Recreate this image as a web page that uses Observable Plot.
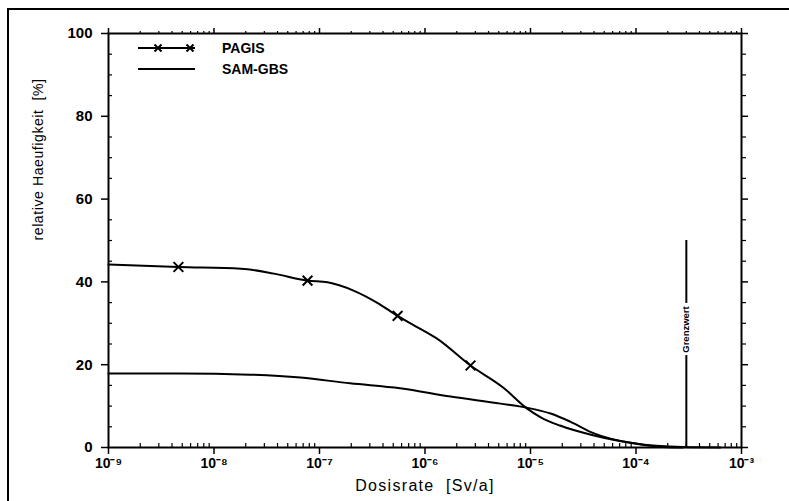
<!DOCTYPE html>
<html>
<head>
<meta charset="utf-8">
<script src="https://cdn.jsdelivr.net/npm/d3@7"></script>
<script src="https://cdn.jsdelivr.net/npm/@observablehq/plot@0.6"></script>
<style>
  html, body { margin: 0; padding: 0; background: #fff; }
  #wrap { position: relative; width: 789px; height: 501px; overflow: hidden; font-family: "Liberation Sans", Arial, sans-serif; }
  #outer { position: absolute; left: 7px; top: 8px; width: 900px; height: 600px; border-left: 2px solid #000; border-top: 2px solid #000; }
  #legend { position: absolute; left: 138px; top: 37px; font-weight: bold; font-size: 14px; }
  .row { display: flex; align-items: center; height: 21px; }
  .row svg { margin-right: 27px; }
</style>
</head>
<body>
<div id="wrap">
  <div id="outer"></div>
  <div id="chart"></div>
  <div id="legend"></div>
</div>
<script>
// ---- data ----
const seriesNames = ["PAGIS", "SAM-GBS"];
const pagisX = [1e-9, 4.6e-9, 1.8e-8, 3.7e-8, 7.7e-8, 1.19e-7, 2.1e-7, 3.5e-7, 5.5e-7, 8.5e-7, 1.3e-6, 2.7e-6, 5.5e-6, 9.3e-6, 1.25e-5, 1.9e-5, 4.0e-5, 9.5e-5, 1.6e-4, 2.8e-4];
const pagisY = [44.2, 43.6, 43.2, 42.0, 40.3, 39.9, 37.9, 35.0, 31.8, 29.0, 26.3, 19.8, 14.5, 9.4, 7.3, 5.3, 2.9, 1.0, 0.2, 0];
const pagisMarkX = [4.6e-9, 7.7e-8, 5.5e-7, 2.7e-6];
const pagisMarkY = [43.6, 40.3, 31.8, 19.8];
const samX = [1e-9, 4.8e-9, 2.2e-8, 6.6e-8, 1.95e-7, 5.8e-7, 1.75e-6, 5.2e-6, 9.3e-6, 1.55e-5, 2.4e-5, 4.0e-5, 9.5e-5, 2.8e-4, 6.3e-4];
const samY = [17.9, 17.9, 17.6, 16.9, 15.5, 14.3, 12.3, 10.6, 9.6, 8.2, 6.2, 3.4, 1.0, 0.1, 0];
const limitX = 3e-4;            // Grenzwert
const limitLabel = "Grenzwert";
const limitSegments = [[0, 22.2], [34.8, 50]];
const limitLabelY = 28.5;
const xMajorTicks = [1e-9, 1e-8, 1e-7, 1e-6, 1e-5, 1e-4, 1e-3];
const yMajorTicks = [0, 20, 40, 60, 80, 100];
const yMinorTicks = [5, 10, 15, 25, 30, 35, 45, 50, 55, 65, 70, 75, 85, 90, 95];
const xTitle = "Dosisrate  [Sv/a]";
const yTitle = "relative Haeufigkeit  [%]";

// ---- build ----
const pagis = pagisX.map((x, i) => ({x, y: pagisY[i]}));
const sam = samX.map((x, i) => ({x, y: samY[i]}));
const marksP = pagisMarkX.map((x, i) => ({x, y: pagisMarkY[i]}));
const xMinorTicks = [];
for (let e = -9; e < -3; e++) for (let m = 2; m <= 9; m++) xMinorTicks.push(m * Math.pow(10, e));

const supMap = {"-": "\u207B", "0": "\u2070", "1": "\u00B9", "2": "\u00B2", "3": "\u00B3", "4": "\u2074", "5": "\u2075", "6": "\u2076", "7": "\u2077", "8": "\u2078", "9": "\u2079"};
const fmt = d => "10" + String(Math.round(Math.log10(d))).split("").map(c => supMap[c]).join("");

const chart = Plot.plot({
  width: 789,
  height: 501,
  marginLeft: 108,
  marginRight: 48,
  marginTop: 33,
  marginBottom: 54,
  style: {fontFamily: "'Liberation Sans', Arial, sans-serif", fontSize: "13px", color: "#000", background: "transparent"},
  x: {type: "log", domain: [1e-9, 1e-3]},
  y: {domain: [0, 100]},
  marks: [
    Plot.frame({stroke: "#000", strokeWidth: 2}),
    Plot.axisX({ticks: xMajorTicks, tickFormat: fmt, tickSize: 7, tickPadding: 4, fontSize: 14, fontWeight: "bold", strokeWidth: 1.5, label: null}),
    Plot.axisX({ticks: xMinorTicks, tickSize: -4, tickFormat: () => "", label: null, strokeWidth: 1.2}),
    Plot.axisX({anchor: "top", ticks: xMajorTicks, tickSize: 6, tickFormat: () => "", label: null, strokeWidth: 1.5}),
    Plot.axisX({anchor: "top", ticks: xMinorTicks, tickSize: 3, tickFormat: () => "", label: null, strokeWidth: 1.2}),
    Plot.axisY({ticks: yMajorTicks, tickSize: 7, tickPadding: 9, fontSize: 15, fontWeight: "bold", strokeWidth: 1.5, label: null}),
    Plot.axisY({ticks: yMinorTicks, tickSize: -4, tickFormat: () => "", label: null, strokeWidth: 1.2}),
    Plot.axisY({anchor: "right", ticks: yMajorTicks, tickSize: 6, tickFormat: () => "", label: null, strokeWidth: 1.5}),
    Plot.axisY({anchor: "right", ticks: yMinorTicks, tickSize: 4, tickFormat: () => "", label: null, strokeWidth: 1.2}),
    Plot.text([xTitle], {frameAnchor: "bottom", text: d => d, dy: 43, fontSize: 16}),
    Plot.text([yTitle], {frameAnchor: "left", text: d => d, dx: -70, rotate: -90, fontSize: 14}),
    Plot.line(sam, {x: "x", y: "y", stroke: "#000", strokeWidth: 2, curve: "monotone-x"}),
    Plot.line(pagis, {x: "x", y: "y", stroke: "#000", strokeWidth: 2, curve: "monotone-x"}),
    Plot.dot(marksP, {x: "x", y: "y", symbol: "times", r: 4.5, stroke: "#000", strokeWidth: 2}),
    Plot.ruleX(limitSegments, {x: () => limitX, y1: d => d[0], y2: d => d[1], stroke: "#000", strokeWidth: 2}),
    Plot.text([limitLabel], {x: () => limitX, y: () => limitLabelY, text: d => d, rotate: -90, fontSize: 9.5, fontWeight: "bold"})
  ]
});
d3.select(chart).selectAll("text").each(function () {
  if (this.textContent === xTitle) this.setAttribute("letter-spacing", "1.3px");
  if (this.textContent === yTitle) this.setAttribute("letter-spacing", "0.6px");
});
document.getElementById("chart").appendChild(chart);

// legend
const legend = document.getElementById("legend");
seriesNames.forEach((name, i) => {
  const row = document.createElement("div");
  row.className = "row";
  const ns = "http://www.w3.org/2000/svg";
  const s = document.createElementNS(ns, "svg");
  s.setAttribute("width", 57); s.setAttribute("height", 12);
  const l = document.createElementNS(ns, "line");
  l.setAttribute("x1", 0); l.setAttribute("x2", 57); l.setAttribute("y1", 6); l.setAttribute("y2", 6);
  l.setAttribute("stroke", "#000"); l.setAttribute("stroke-width", 2);
  s.appendChild(l);
  if (i === 0) {
    [20, 52].forEach(cx => {
      const p = document.createElementNS(ns, "path");
      p.setAttribute("d", `M${cx-3.5},2.5L${cx+3.5},9.5M${cx-3.5},9.5L${cx+3.5},2.5`);
      p.setAttribute("stroke", "#000"); p.setAttribute("stroke-width", 2);
      s.appendChild(p);
    });
  }
  row.appendChild(s);
  const t = document.createElement("span");
  t.textContent = name;
  row.appendChild(t);
  legend.appendChild(row);
});
</script>
</body>
</html>
